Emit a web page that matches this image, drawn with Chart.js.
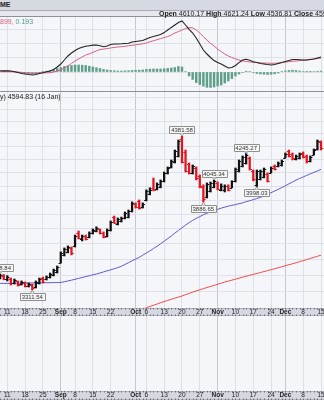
<!DOCTYPE html>
<html><head><meta charset="utf-8">
<script src="https://cdn.jsdelivr.net/npm/chart.js@4.4.1/dist/chart.umd.min.js"></script>
<style>
html,body{margin:0;padding:0;width:324px;height:400px;overflow:hidden;background:#f5f6fa;}
#wrap{position:relative;width:324px;height:400px;overflow:hidden;background:#f5f6fa;font-family:"Liberation Sans",Arial,sans-serif;color:#222;}
.a{position:absolute;}
canvas{position:absolute;left:0;background:#f5f6fa;}
.t{position:absolute;white-space:nowrap;font-size:7px;line-height:7px;}
</style></head><body>
<div id="wrap">
  <div class="a" style="left:0;top:0;width:324px;height:10px;background:#d6d9e1;"></div>
  <div class="a" style="left:0;top:10px;width:324px;height:1px;background:#a9adb6;"></div>
  <div class="a" style="left:0;top:11px;width:324px;height:5px;background:#e5e7ed;"></div>
  <div class="a" style="left:0;top:16px;width:324px;height:1px;background:#8c9099;"></div>
  <canvas id="macd" width="324" height="74" style="top:17px"></canvas>
  <div class="a" style="left:0;top:91px;width:324px;height:1px;background:#8c9099;"></div>
  <canvas id="price" width="324" height="224" style="top:92px"></canvas>
  <canvas id="empty" width="324" height="84" style="top:316px"></canvas>
  <div class="t" style="left:0;top:1.4px;font-weight:bold;">ME</div>
  <div class="t" style="left:159px;top:9.6px;"><b>Open</b> 4610.17 <b>High</b> 4621.24 <b>Low</b> 4536.81 <b>Close</b> 4594.83</div>
  <div class="t" style="left:0;top:17.6px;"><span style="color:#d4587a">899,</span> <span style="color:#4f9a85">0.193</span></div>
  <div class="t" style="left:0;top:92.6px;">y) 4594.83 (16 Jan)</div>
</div>
<script>
// ---- categories (trading days) ----
const days = ['Aug 7','Aug 8','Aug 11','Aug 12','Aug 13','Aug 14','Aug 15','Aug 18','Aug 19','Aug 20',
'Aug 21','Aug 22','Aug 25','Aug 26','Aug 27','Aug 28','Aug 29','Sep 2','Sep 3','Sep 4',
'Sep 5','Sep 8','Sep 9','Sep 10','Sep 11','Sep 12','Sep 15','Sep 16','Sep 17','Sep 18',
'Sep 19','Sep 22','Sep 23','Sep 24','Sep 25','Sep 26','Sep 29','Sep 30','Oct 1','Oct 2',
'Oct 3','Oct 6','Oct 7','Oct 8','Oct 9','Oct 10','Oct 13','Oct 14','Oct 15','Oct 16',
'Oct 17','Oct 20','Oct 21','Oct 22','Oct 23','Oct 24','Oct 27','Oct 28','Oct 29','Oct 30',
'Oct 31','Nov 3','Nov 4','Nov 5','Nov 6','Nov 7','Nov 10','Nov 11','Nov 12','Nov 13',
'Nov 14','Nov 17','Nov 18','Nov 19','Nov 20','Nov 21','Nov 24','Nov 25','Nov 26','Nov 28',
'Dec 1','Dec 2','Dec 3','Dec 4','Dec 5','Dec 8','Dec 9','Dec 10','Dec 11','Dec 12',
'Dec 15'];

// ---- price series ----
const open = [3385,3398,3378,3378,3352,3362,3345,3355,3332,3340,
3328,3352,3385,3375,3388,3400,3420,3480,3530,3550,
3575,3585,3670,3630,3655,3645,3672,3688,3698,3675,
3650,3692,3780,3735,3752,3772,3780,3820,3872,3890,
3850,3900,3945,3990,3980,3995,4035,4095,4140,4180,
4230,4360,4260,4165,4098,4135,4075,3995,3920,3965,
3995,4025,3972,3970,4000,3990,4040,4110,4150,4170,
4212,4110,4010,4055,4065,4090,4100,4150,4148,4155,
4215,4265,4245,4200,4210,4250,4228,4188,4238,4280,
4335];
const high = [3408.84,3405,3398,3383,3377,3365,3365,3359,3353,3346,
3365,3383,3389,3396,3414,3439,3458,3548,3574,3587,
3580,3659,3686,3659,3659,3680,3700,3714,3700,3680,
3700,3754,3788,3775,3781,3816,3830,3887,3880,3901,
3880,3973,3988,4060,4024,4046,4105,4143,4196,4273,
4352,4381.58,4273,4173,4158,4143,4083,4010,4024,4031,
4045.34,4031,4017,4010,4010,4040,4135,4196,4227,4245.27,
4219,4120,4120,4120,4135,4098,4143,4158,4181,4196,
4250,4273,4250,4234,4250,4258,4234,4227,4281,4352,
4344];
const low = [3378,3372,3365,3340,3346,3334,3340,3328,3328,3311.54,
3322,3346,3353,3371,3383,3396,3414,3477,3522,3542,
3529,3580,3633,3620,3626,3640,3666,3680,3666,3640,
3646,3686,3738,3727,3747,3768,3775,3816,3844,3837,
3844,3894,3937,3966,3973,3988,4031,4090,4135,4173,
4219,4173,4105,4090,4090,4046,3988,3886.65,3915,3958,
3988,3973,3966,3958,3966,3988,4031,4105,4143,4165,
4120,4039,3998.03,4046,4061,4031,4098,4120,4143,4150,
4211,4219,4196,4196,4204,4211,4173,4181,4234,4273,
4273];
const close = [3402,3380,3392,3350,3370,3340,3358,3335,3348,3322,
3358,3378,3360,3390,3408,3432,3452,3540,3565,3580,
3540,3650,3640,3652,3632,3675,3695,3708,3672,3648,
3694,3748,3742,3768,3776,3810,3824,3880,3850,3845,
3870,3965,3975,3970,4015,4035,4098,4135,4188,4265,
4340,4180,4115,4100,4150,4060,4000,3905,4015,4025,
4040,3980,3998,4005,3975,4035,4128,4188,4220,4235,
4130,4050,4110,4115,4128,4040,4138,4125,4175,4190,
4245,4230,4215,4228,4240,4220,4185,4220,4275,4345,
4290];
const ma50 = [3350,3350,3350,3351,3351,3351,3352,3352,3352,3353,
3353,3353,3354,3354,3354,3355,3355,3356,3360,3365,
3370,3375,3381,3386,3392,3397,3403,3408,3414,3421,
3428,3434,3441,3448,3456,3468,3479,3491,3502,3513,
3527,3541,3555,3570,3585,3601,3618,3635,3653,3672,
3690,3708,3726,3743,3758,3772,3784,3797,3808,3818,
3828,3835,3843,3850,3857,3863,3868,3874,3880,3889,
3895,3903,3911,3919,3929,3941,3953,3965,3977,3990,
4003,4017,4031,4045,4057,4068,4080,4091,4102,4113,
4125];
const ma200 = [null,null,null,null,null,null,null,null,null,null,
null,null,null,null,null,null,null,null,null,null,
null,null,null,null,null,null,null,null,null,null,
null,null,null,null,null,null,null,null,3183,3190,
3197,3204,3212,3219,3226,3234,3241,3248,3254,3261,
3267,3274,3282,3289,3297,3304,3311,3318,3325,3331,
3338,3345,3351,3358,3364,3370,3376,3382,3388,3394,
3400,3406,3411,3417,3423,3429,3435,3441,3447,3453,
3460,3466,3472,3479,3486,3492,3499,3506,3513,3520,
3527];

// ---- MACD series ----
const macd = [4.5,4,4,3.5,1,-2,-5,-7,-9,-10.5,
-9,-5,-2.5,0.7,3.5,9,17.5,28,42,56,
66.5,75,82,86.5,90,92,94,94.5,92,88.5,
91,96,98,98,98.7,100,100.5,105,107,108.5,
110,115.5,121,124,128,131,138,147,156,164.5,
173,178.5,164.5,149,136.5,119,98,77,63,50.7,
40,33,28,21,14,15.7,22.7,33,42,44.5,
41,36,33,30,28,26,24.5,26,30,33,
37,40,44,44,43,42,42,44,45.5,49,
52.5];
const signal = [1,1,1,1,0.5,0,-1.4,-2.5,-3.5,-4.5,
-4.2,-3.5,-3,-2.8,-2.5,0,3.5,7,14,21,
30,38.5,45.5,52.5,59.5,63.5,69,73.5,79,80,
82,84,86,87.5,88.5,90,92,93.5,95,97,
98.5,101.5,106,109.5,113,117,120.5,124,129.5,136.5,
141.5,147,152,155.5,154.5,147,136.5,124,112,100,
91,80.5,71.5,63,56,50.7,46,42,38.5,36.7,
35,34,33,32,31.5,31,30.5,30.5,31.5,33,
35,36,37.5,38.5,40,41.3,42,43.7,45.5,47,
49];
const hist = [3.5,3.5,3.5,2.5,1,-1.8,-3.5,-4.5,-5.6,-6.3,
-5.3,-2.8,0.7,2.8,5.3,8.8,12.3,15.8,19.3,21,
22.8,24.5,24.5,23.8,22.8,20.3,17.5,15,12.3,8.8,
7,5.3,4.6,3.5,3.5,4.2,4.6,5.6,6,6.3,
7,8.8,9.8,10.5,10.5,10.5,11.2,12.3,14,15.8,
19.3,17.5,1.8,-14,-26,-37,-44,-49,-53.5,-54,
-52.5,-49,-45.5,-38.5,-31.5,-23,-14,-7,-1.8,2.8,
1.8,-1.8,-5.3,-7,-8,-8.8,-8,-6.3,-3.5,1.8,
3.5,5.3,6.3,5.3,3.5,1.8,0.7,0.7,1.8,2.8,
3.5];

// ---- ticks / grid ----
const tickDays = [2,7,12,17,21,26,31,38,41,46,51,56,61,66,71,76,80,85,90];
const tickLabels = ['11','18','25','Sep','8','15','22','Oct','6','13','20','27','Nov','10','17','24','Dec','8','15'];
const monthLabels = ['Sep','Oct','Nov','Dec'];
const priceGrid = [3300,3400,3500,3600,3700,3800,3900,4000,4100,4200,4300,4400,4500,4600,4700];
const macdGrid = [-50,0,50,100,150];
// ---- annotations (day index + which extreme) ----
const annDays = [0,9,51,57,60,69,72];
const annKind = ['high','low','high','low','high','high','low'];

const X_MIN = -0.048, X_MAX = 90.84;
const FONT = '"Liberation Sans", Arial, sans-serif';
const idx = days.map((d,i)=>i);
const isMonthTick = v => monthLabels.includes(tickLabels[tickDays.indexOf(v)]);
const barColor = i => (i===0 || close[i] >= close[i-1]) ? '#111111' : '#e8121c';

function xAxis(bandH){
  return {
    type:'linear', min:X_MIN, max:X_MAX, offset:false,
    afterBuildTicks: s => { s.ticks = tickDays.map(v=>({value:v})); },
    afterFit: s => { s.height = bandH; s.paddingLeft = 0; s.paddingRight = 0; },
    grid:{ offset:false, drawTicks:false, lineWidth:1,
      color: c => (c.tick && isMonthTick(c.tick.value)) ? '#c5c8d1' : '#dfe1e8' },
    border:{display:false},
    ticks:{ display: bandH>0, autoSkip:false, maxRotation:0, minRotation:0, padding:0, color:'#222',
      callback: v => { const k = tickDays.indexOf(v); return k>=0 ? tickLabels[k] : ''; },
      font: c => ({family:FONT, size:6.5, weight: (c.tick && isMonthTick(c.tick.value)) ? 'bold' : 'normal'}) }
  };
}
function yAxis(type,min,max,grid){
  return {
    type, min, max, position:'right',
    afterBuildTicks: s => { if(grid) s.ticks = grid.map(v=>({value:v})); },
    afterFit: s => { s.width = 0; s.paddingTop = 0; s.paddingBottom = 0; },
    grid:{ color:'#dfe1e8', drawTicks:false, display: !!grid },
    border:{display:false}, ticks:{display:false}
  };
}
const bandPlugin = {
  id:'band',
  beforeDraw(chart){
    const s = chart.scales.x, ctx = chart.ctx;
    if (!s || s.height < 1) return;
    ctx.save();
    ctx.fillStyle = '#d5d8e0';
    ctx.fillRect(0, s.top, chart.width, s.bottom - s.top);
    ctx.fillStyle = '#b2b5bd';
    ctx.fillRect(0, s.top, chart.width, 1);
    ctx.fillRect(0, s.bottom-1, chart.width, 1);
    ctx.fillStyle = '#6f727a';
    idx.forEach(i => {
      const px = Math.round(s.getPixelForValue(i));
      ctx.fillRect(px, s.top, 1, 1.5);
      ctx.fillRect(px, s.bottom-1.5, 1, 1.5);
    });
    ctx.restore();
  }
};
const ohlcTicks = {
  id:'ohlcTicks',
  afterDatasetsDraw(chart){
    const {ctx, chartArea:a} = chart, x = chart.scales.x, y = chart.scales.y;
    ctx.save();
    ctx.beginPath(); ctx.rect(a.left, a.top, a.right-a.left, a.bottom-a.top); ctx.clip();
    ctx.lineWidth = 1.2;
    idx.forEach(i => {
      const px = x.getPixelForValue(i);
      const yo = Math.round(y.getPixelForValue(open[i])) + 0.5;
      const yc = Math.round(y.getPixelForValue(close[i])) + 0.5;
      ctx.strokeStyle = barColor(i);
      ctx.beginPath();
      ctx.moveTo(px-2.2, yo); ctx.lineTo(px, yo);
      ctx.moveTo(px, yc); ctx.lineTo(px+2.2, yc);
      ctx.stroke();
    });
    ctx.restore();
  }
};
const annPlugin = {
  id:'ann',
  afterDatasetsDraw(chart){
    const ctx = chart.ctx, x = chart.scales.x, y = chart.scales.y;
    ctx.save();
    ctx.font = '6px ' + FONT;
    annDays.forEach((d,k) => {
      const up = annKind[k] === 'high';
      const v = up ? high[d] : low[d];
      const txt = v.toFixed(2);
      const px = x.getPixelForValue(d), py = y.getPixelForValue(v);
      const w = Math.ceil(ctx.measureText(txt).width) + 3, h = 7;
      const bx = Math.round(px - w/2) + 0.5;
      const by = up ? Math.round(py - 3 - h) + 0.5 : Math.round(py + 3) + 0.5;
      ctx.fillStyle = '#f6f6f6'; ctx.strokeStyle = '#8f8f8f'; ctx.lineWidth = 1;
      ctx.beginPath(); ctx.rect(bx, by, w, h); ctx.fill(); ctx.stroke();
      ctx.beginPath();
      if (up) { ctx.moveTo(px-2, by+h); ctx.lineTo(px, py-0.5); ctx.lineTo(px+2, by+h); }
      else { ctx.moveTo(px-2, by); ctx.lineTo(px, py+0.5); ctx.lineTo(px+2, by); }
      ctx.fill(); ctx.stroke();
      ctx.fillStyle = '#333'; ctx.textAlign = 'center'; ctx.textBaseline = 'middle';
      ctx.fillText(txt, px, by + h/2 + 0.5);
    });
    ctx.restore();
  }
};
const common = {
  responsive:false, animation:false, devicePixelRatio:1,
  layout:{padding:0},
  plugins:{legend:{display:false}, tooltip:{enabled:false}},
  events:[]
};

// MACD panel
new Chart(document.getElementById('macd'), {
  type:'bar',
  data:{ datasets:[
    { type:'line', data: idx.map(i=>({x:i,y:macd[i]})), borderColor:'#222', borderWidth:1.1, pointRadius:0, order:0 },
    { type:'line', data: idx.map(i=>({x:i,y:signal[i]})), borderColor:'#d65f80', borderWidth:1, pointRadius:0, order:1 },
    { type:'bar', data: idx.map(i=>({x:i,y:hist[i]})), backgroundColor:'#5f9e89', barThickness:1.8, grouped:false, order:2 }
  ]},
  options:{ ...common, scales:{ x:xAxis(0), y:yAxis('linear',-66.5,192.5,macdGrid) } },
  plugins:[]
});

// Price panel
new Chart(document.getElementById('price'), {
  type:'bar',
  data:{ datasets:[
    { type:'bar', data: idx.map(i=>({x:i,y:[low[i],high[i]]})), backgroundColor: c => barColor(c.dataIndex),
      barThickness:1.6, grouped:false, order:0 },
    { type:'line', data: idx.map(i=>({x:i,y:ma50[i]})), borderColor:'#5a5ad2', borderWidth:1, pointRadius:0, order:1 },
    { type:'line', data: idx.map(i=>({x:i,y:ma200[i]})), borderColor:'#f04a4a', borderWidth:1, pointRadius:0, spanGaps:false, order:2 }
  ]},
  options:{ ...common, scales:{ x:xAxis(8), y:yAxis('logarithmic',3203,4750,priceGrid) } },
  plugins:[bandPlugin, ohlcTicks, annPlugin]
});

// Empty lower panel
new Chart(document.getElementById('empty'), {
  type:'line',
  data:{ datasets:[] },
  options:{ ...common, scales:{ x:xAxis(9), y:{ type:'linear', min:0, max:1, display:false } } },
  plugins:[bandPlugin]
});
</script>
</body></html>
